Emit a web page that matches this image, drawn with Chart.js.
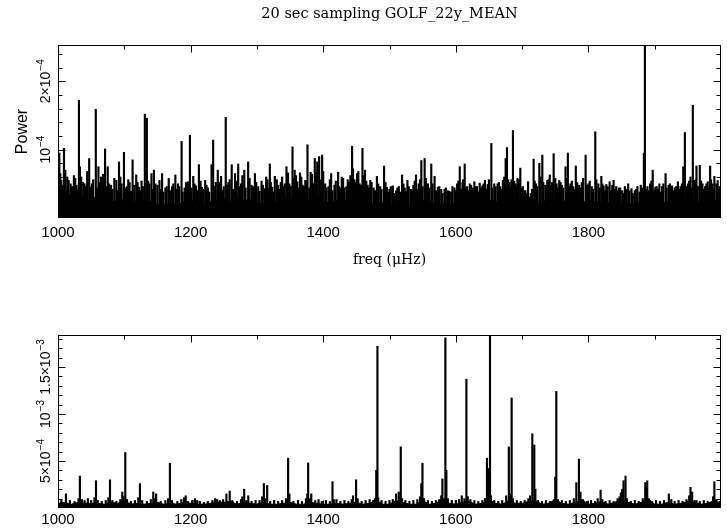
<!DOCTYPE html>
<html>
<head>
<meta charset="utf-8">
<script src="https://cdn.jsdelivr.net/npm/chart.js@4.4.1/dist/chart.umd.min.js"></script>
<style>
  body { margin: 0; background: #fff; }
  #wrap { position: relative; width: 727px; height: 529px; }
  #topChart { position: absolute; left: 0; top: 0; }
  #bottomChart { position: absolute; left: 0; top: 300px; }
</style>
</head>
<body>
<div id="wrap">
  <canvas id="topChart" width="727" height="300"></canvas>
  <canvas id="bottomChart" width="727" height="229"></canvas>
</div>
<script>
// texts and ticks
const titleText = '20 sec sampling GOLF_22y_MEAN';
const xTitle = 'freq (\u03bcHz)';
const yTitle = 'Power';
const xTickValues = [1000, 1200, 1400, 1600, 1800];
const topLabelValues = [1e-4, 2e-4];
const topLabelBase = ['10', '2\u00d710'];
const topLabelExp = ['\u22124', '\u22124'];
const botLabelValues = [5e-4, 1e-3, 1.5e-3];
const botLabelBase = ['5\u00d710', '10', '1.5\u00d710'];
const botLabelExp = ['\u22124', '\u22123', '\u22123'];

// noise floor sampled every 10 uHz (shared freq grid)
const floorFreq = [1000,1010,1020,1030,1040,1050,1060,1070,1080,1090,1100,1110,1120,1130,1140,1150,1160,1170,1180,1190,
  1200,1210,1220,1230,1240,1250,1260,1270,1280,1290,1300,1310,1320,1330,1340,1350,1360,1370,1380,1390,
  1400,1410,1420,1430,1440,1450,1460,1470,1480,1490,1500,1510,1520,1530,1540,1550,1560,1570,1580,1590,
  1600,1610,1620,1630,1640,1650,1660,1670,1680,1690,1700,1710,1720,1730,1740,1750,1760,1770,1780,1790,
  1800,1810,1820,1830,1840,1850,1860,1870,1880,1890,1900,1910,1920,1930,1940,1950,1960,1970,1980,1990,2000];

// top panel, power in units of 1e-5
const topUnit = 1e-5;
const topFloor = [3.8,4.2,3.2,3.6,2.8,3.2,2.8,3.0,2.3,2.6,2.8,2.2,2.6,2.8,2.4,2.0,1.8,2.2,1.9,2.4,
  2.6,2.2,2.0,2.4,2.6,2.8,2.4,2.9,2.6,2.7,2.2,2.0,2.6,2.2,2.8,3.0,2.6,2.9,2.6,3.2,
  2.4,2.2,2.6,2.4,2.7,3.0,2.6,2.2,2.0,2.2,1.9,2.1,2.3,2.0,2.4,2.6,2.4,2.2,2.0,1.8,
  2.2,2.4,2.1,2.3,2.4,2.6,2.4,2.7,2.8,2.6,2.2,1.1,2.0,2.4,2.6,2.7,2.4,2.6,2.4,2.3,
  2.5,2.4,2.2,2.3,2.1,2.2,1.9,2.0,2.4,2.2,2.0,2.2,2.4,2.1,2.4,2.6,2.4,2.2,2.4,2.6,2.4];
const topPeakFreq = [1002,1005,1009,1014,1019,1024,1028,1031.6,1033,1038,1042,1047,1051,1057,1061,1065,1071,1075,1080,1085,
  1092,1096,1099.5,1104,1108,1112.5,1118,1122,1126,1131,1134,1138,1141,1144.7,1150,1153,1157,1162,1167,1172,
  1177,1181,1186.4,1191,1196,1199,1204,1208,1212.5,1217,1222,1226,1231.6,1234,1238,1241,1246,1250,1253,1257,
  1262,1267,1271.8,1276,1281,1286.8,1292,1297,1302,1307,1312,1316,1319.5,1323,1327,1332,1336,1340,1344.6,1349,
  1353.7,1357,1361,1365,1369,1373,1376.3,1381,1384,1387.3,1391,1393.9,1398.4,1403,1408,1412,1417,1422.5,1426,1430,
  1435,1439,1443.6,1447,1451,1455,1459.2,1463,1467,1471,1476,1481,1486,1491.8,1496,1500,1505,1510,1514,1519,
  1523,1527,1532,1536,1540,1544,1548,1553,1558,1563,1568,1573,1578,1583,1588,1593,1598,1602,1606,1610,
  1613.4,1617,1621,1625,1628,1632,1636,1640,1644,1648,1653.6,1658,1663,1667,1671,1675.2,1677.2,1681,1684,1686.2,
  1690,1693,1697.3,1701,1705,1709,1713,1717.4,1721,1726,1730.5,1735,1738,1741.7,1745,1747.6,1752,1756,1760,1765.5,
  1769,1773,1777,1781,1786,1790,1795.8,1800,1805,1810.4,1815,1819.5,1823,1827,1832,1838,1842,1846,1851,1855,
  1860,1865,1870,1874,1879,1883.7,1885.2,1889,1893,1897,1901,1907,1911,1916.4,1921,1926,1930,1935,1939,1943,
  1945.5,1950,1954,1957.5,1960,1963,1968,1972,1976,1980,1983.6,1987,1990,1995,1998];
const topPeakPower = [9.5,5.5,10.2,6.0,5.0,6.2,4.8,17.2,7.5,5.2,4.6,8.7,5.0,15.9,7.5,6.0,10.1,7.5,4.8,5.8,
  8.2,5.0,9.6,4.6,5.2,8.5,6.3,4.5,5.4,15.2,14.6,5.0,6.5,7.0,4.8,5.5,6.5,4.4,5.8,4.6,
  6.3,5.0,11.2,4.4,5.3,12.1,6.1,4.7,7.8,4.5,5.5,4.4,7.8,11.4,5.2,7.0,6.1,4.6,14.7,5.2,
  7.8,6.5,7.9,5.0,7.0,8.2,4.8,6.5,4.6,5.4,4.3,5.6,7.9,4.5,6.1,4.8,5.2,4.6,7.5,5.0,
  10.4,7.0,5.3,6.6,4.8,5.5,10.7,6.7,5.0,8.7,8.2,9.0,9.2,5.0,4.6,6.5,4.8,6.7,4.4,5.8,
  4.6,5.3,10.5,5.6,6.5,5.0,10.2,7.0,4.8,5.5,4.4,6.1,4.6,7.6,4.5,4.2,4.7,4.0,4.6,6.3,
  4.4,5.5,4.2,4.8,6.3,5.0,8.4,8.7,5.0,7.9,6.1,4.5,4.2,4.2,4.0,3.8,4.4,5.0,7.5,5.2,
  7.9,4.6,5.0,4.4,5.3,4.6,5.1,4.7,5.5,4.9,10.9,5.0,5.0,4.6,5.5,8.7,10.3,5.2,5.6,12.8,
  5.0,5.8,7.3,4.6,4.0,5.3,3.6,8.6,5.0,8.0,9.2,4.8,5.5,6.3,5.2,9.4,5.0,5.5,4.8,7.5,
  9.5,5.0,4.6,7.6,4.8,5.2,9.2,5.0,4.6,12.6,5.0,6.1,4.7,4.9,5.3,5.5,4.6,4.4,4.0,4.6,
  5.0,4.3,4.0,4.6,4.8,9.5,28,4.6,5.0,7.0,4.5,5.0,4.6,6.5,4.8,4.7,4.4,5.3,4.6,7.5,
  12.5,5.0,6.0,16.5,5.5,7.6,7.7,5.0,4.6,5.3,7.6,5.0,6.1,5.5,4.6];
// the denser forest of smaller lines between the peaks
const topMidFreq = [1003.5,1007,1011,1016,1021,1026,1030,1035,1040,1044,1049,1053,1059,1063,1068,1073,1077,1082,1088,1090,
  1094,1101,1106,1110,1115,1120,1124,1128,1136,1143,1147,1155,1159,1164,1169,1174,1179,1183,1188,1193,
  1201,1206,1210,1215,1219,1224,1228,1236,1243,1248,1255,1259,1264,1269,1274,1278,1283,1289,1294,1299,
  1304,1309,1314,1318,1321,1325,1330,1334,1338,1342,1347,1351,1355,1359,1363,1367,1371,1375,1379,1383,
  1386,1389,1396,1400,1405,1410,1414,1419,1424,1428,1432,1437,1441,1445,1449,1453,1457,1461,1465,1469,
  1473,1478,1483,1488,1494,1498,1502,1507,1512,1516,1521,1525,1529,1534,1538,1542,1546,1550,1555,1560,
  1565,1570,1575,1580,1585,1590,1595,1600,1604,1608,1611,1615,1619,1623,1626,1630,1634,1638,1642,1646,
  1650,1655,1660,1665,1669,1673,1679,1682,1688,1692,1695,1699,1703,1707,1711,1715,1719,1723,1728,1732,
  1737,1740,1743,1750,1754,1758,1762,1767,1771,1775,1779,1783,1788,1792,1798,1802,1807,1812,1817,1821,
  1825,1829,1834,1836,1840,1844,1848,1853,1857,1862,1867,1872,1877,1881,1887,1891,1895,1899,1903,1905,
  1909,1913,1918,1923,1928,1932,1937,1941,1948,1952,1956,1962,1965,1970,1974,1978,1982,1985,1989,1993,1997];
const topMidPower = [6.5,4.8,7.0,5.5,4.6,5.8,4.2,6.0,5.0,6.8,4.5,5.6,4.4,5.2,6.4,4.6,5.0,4.2,5.5,4.0,
  6.0,4.4,5.6,3.9,4.8,5.2,4.0,4.6,5.4,4.2,5.0,4.2,3.8,4.6,4.0,5.0,4.2,4.6,3.8,5.2,
  4.4,5.0,4.0,5.4,4.2,4.8,3.8,4.6,5.2,4.0,4.8,5.6,4.2,5.4,4.6,6.2,4.4,5.8,4.6,5.2,
  3.9,4.8,6.0,4.4,5.2,3.8,5.6,4.2,6.0,5.0,6.6,4.6,5.8,6.2,4.4,6.0,4.6,5.4,4.4,6.4,
  5.0,6.6,5.6,6.8,4.4,5.6,4.0,5.4,4.6,6.0,4.4,5.6,6.2,7.2,5.2,6.8,4.8,6.2,5.4,4.4,
  5.2,4.0,5.0,4.2,5.2,3.8,4.6,3.6,4.4,3.8,5.0,3.9,4.6,4.0,5.4,4.2,5.6,4.6,5.8,4.4,
  5.0,4.0,4.6,3.6,4.4,3.9,4.6,4.0,5.4,4.2,5.6,4.4,4.0,4.8,4.0,4.6,3.8,4.4,5.0,4.2,
  5.6,4.4,4.6,5.2,4.2,6.0,5.6,4.6,5.4,4.6,5.6,4.4,4.0,3.6,3.0,4.2,5.4,4.6,6.0,5.2,
  4.4,5.6,4.6,5.8,4.4,5.2,4.4,5.8,4.6,5.4,4.2,5.2,4.4,5.8,4.8,5.4,4.2,5.6,4.4,5.0,
  4.0,4.6,4.0,4.8,4.2,4.0,4.4,3.6,4.2,4.0,3.6,4.2,3.8,4.4,4.2,4.0,5.4,4.0,4.6,4.2,
  3.8,5.0,4.4,5.0,4.0,4.6,4.2,5.0,4.6,5.4,4.4,5.6,4.6,5.4,4.2,5.0,4.4,5.6,4.4,5.0,4.2];

// bottom panel, power in units of 1e-4
const botUnit = 1e-4;
const botFloor = [0.5,0.6,0.4,0.6,0.5,0.5,0.5,0.4,0.6,0.5,0.8,0.4,0.5,0.4,0.5,0.6,0.4,0.5,0.4,0.6,
  0.5,0.4,0.4,0.5,0.6,0.6,0.7,0.4,0.6,0.5,0.4,0.6,0.4,0.4,0.5,0.6,0.4,0.4,0.6,0.5,
  0.4,0.4,0.5,0.4,0.5,0.6,0.4,0.5,0.8,0.4,0.4,0.8,0.6,0.4,0.4,0.8,0.4,0.5,0.9,0.5,
  0.4,0.6,0.7,0.4,0.5,0.9,0.5,0.4,0.8,0.5,0.5,0.7,0.8,0.4,0.5,0.9,0.5,0.4,0.6,0.9,
  0.4,0.5,0.7,0.4,0.6,1.0,0.6,0.4,0.6,1.0,0.4,0.4,0.6,0.4,0.5,0.7,0.6,0.4,0.5,0.8,0.5];
const botPeakFreq = [1005,1012,1018,1025,1031,1033,1036,1040,1045,1050,1055,1057.3,1060,1066,1072,1076,1078.4,1082,1088,1094,
  1097,1099,1101.5,1104,1110,1116,1121,1123.6,1127,1134,1140,1143.7,1146,1148,1155,1162,1166,1168.8,1172,1180,
  1186,1190,1192.6,1196,1203,1206.7,1210,1214,1220,1226,1233,1237,1240,1244,1249,1254,1259,1263,1270,1276,
  1278,1280.8,1284,1287,1292,1298,1304,1308,1310.5,1312,1315.5,1320,1326,1332,1338,1344,1347.1,1349,1355,1362,
  1368,1374,1376,1377.3,1380,1382,1388,1393,1398,1404,1410,1414,1416,1420,1426,1432,1438,1443,1445,1449.6,
  1452,1458,1464,1470,1475,1478,1480,1481.8,1483,1488,1494,1500,1505,1510,1514,1517,1519,1524,1530,1536,
  1542,1546,1548,1549.7,1552,1558,1564,1570,1575,1578,1579.8,1582,1584.3,1585.8,1588,1594,1600,1605,1609,1613,
  1616,1618,1622,1628,1634,1640,1644,1647,1648.5,1651.6,1653,1658,1664,1670,1676,1680,1682,1684.2,1686,1692,
  1698,1704,1709.5,1712,1715.4,1718.4,1720,1724,1730,1736,1742,1748,1750,1751.6,1754,1760,1766,1772,1778,1781.8,
  1785.7,1788,1792,1798,1804,1810,1814,1818.4,1821,1826,1832,1838,1844,1847,1849,1851,1853,1856,1858,1864,
  1870,1876,1882,1885.7,1887,1888.7,1891,1896,1902,1908,1914,1921.3,1925,1930,1936,1942,1948,1952,1954,1956.5,
  1960,1963,1968,1974,1980,1986,1988,1990,1993,1998];
const botPeakPower = [0.9,1.5,0.8,0.7,1.0,3.4,0.9,0.8,1.0,0.8,1.1,2.9,0.8,0.7,0.8,1.1,3.0,0.8,0.7,0.9,
  1.7,1.2,5.9,0.9,0.7,0.8,1.1,2.6,0.8,0.7,0.9,1.7,1.0,1.5,0.7,0.8,1.0,4.75,0.8,0.7,
  0.9,1.1,1.3,0.7,0.8,1.0,0.8,0.7,0.6,0.7,0.8,1.0,0.9,0.8,0.9,1.5,1.8,0.8,0.7,0.9,
  1.2,2.0,0.8,1.3,0.7,0.8,0.8,1.2,2.6,1.0,2.4,0.7,0.8,0.7,0.8,1.0,5.3,1.5,0.7,0.8,
  0.7,1.0,1.5,4.8,1.0,1.5,0.8,0.9,0.7,0.8,0.7,2.8,0.9,0.9,0.7,0.8,0.7,0.9,1.3,3.0,
  1.0,0.7,0.8,0.9,0.8,1.0,4.0,17.2,1.1,0.8,0.7,0.8,0.9,1.5,1.7,6.5,1.0,0.8,0.7,0.8,
  0.9,1.2,2.6,4.75,1.0,0.8,0.7,0.8,0.9,1.3,3.1,1.0,18.1,4.0,1.0,0.8,0.8,0.9,1.3,1.0,
  13.7,1.2,0.9,0.8,0.7,0.8,1.0,5.3,4.2,19.5,1.3,0.8,0.7,0.8,1.3,6.5,1.5,11.7,1.0,0.8,
  0.7,0.8,1.0,1.3,7.9,6.7,2.0,0.8,0.7,0.8,0.7,0.9,3.3,12.4,0.9,0.8,0.7,0.8,1.0,2.7,
  5.2,1.7,0.9,0.7,0.8,0.7,1.0,1.9,0.9,0.7,0.8,0.7,1.0,1.2,1.6,2.0,2.9,3.4,1.0,0.7,
  0.8,0.7,1.0,2.7,2.0,2.9,1.0,0.7,0.8,0.7,0.8,1.5,0.9,0.7,0.8,0.7,0.9,1.3,2.2,1.7,
  0.8,0.8,0.7,0.8,0.7,0.6,1.2,2.8,0.9,0.7];

// PGPLOT-like box: frame, inward ticks on all sides, rotated y labels with exponents
const pgBox = {
  id: 'pgBox',
  afterDatasetsDraw(chart, args, opts) {
    const { ctx, chartArea: a, scales: { x, y } } = chart;
    const L = Math.round(a.left) + 0.5, R = Math.round(a.right) - 0.5;
    const T = Math.round(a.top) + 0.5, B = Math.round(a.bottom) - 0.5;
    ctx.save();
    ctx.strokeStyle = '#000';
    ctx.lineWidth = 1;
    ctx.beginPath();
    // inner ticks only, the frame covers the end ones
    for (let i = 1; x.min + i * opts.xMinor < x.max; i++) {
      const px = Math.round(x.getPixelForValue(x.min + i * opts.xMinor)) + 0.5;
      const len = i % opts.xPerMajor === 0 ? 7 : 4;
      ctx.moveTo(px, T); ctx.lineTo(px, T + len);
      ctx.moveTo(px, B); ctx.lineTo(px, B - len);
    }
    for (let i = 1; i * opts.yMinor < y.max; i++) {
      const py = Math.round(y.getPixelForValue(i * opts.yMinor)) + 0.5;
      const len = i % opts.yPerMajor === 0 ? 7 : 4;
      ctx.moveTo(L, py); ctx.lineTo(L + len, py);
      ctx.moveTo(R, py); ctx.lineTo(R - len, py);
    }
    ctx.stroke();
    ctx.strokeRect(L, T, R - L, B - T);

    ctx.fillStyle = '#000';
    opts.values.forEach((v, i) => {
      const py = y.getPixelForValue(v);
      ctx.font = '14px "Liberation Sans"';
      const wb = ctx.measureText(opts.base[i]).width;
      ctx.font = '10px "Liberation Sans"';
      const we = ctx.measureText(opts.exp[i]).width;
      ctx.save();
      ctx.translate(a.left - 8, py);
      ctx.rotate(-Math.PI / 2);
      ctx.textAlign = 'left';
      ctx.textBaseline = 'alphabetic';
      const x0 = -(wb + we + 1) / 2;
      ctx.font = '14px "Liberation Sans"';
      ctx.fillText(opts.base[i], x0, 0);
      ctx.font = '10px "Liberation Sans"';
      ctx.fillText(opts.exp[i], x0 + wb + 1, -6);
      ctx.restore();
    });
    ctx.restore();
  }
};

function points(freqs, vals, unit) {
  return freqs.map((f, i) => ({ x: f, y: vals[i] * unit }));
}

function spikes(freqs, vals, unit) {
  return {
    type: 'bar',
    data: points(freqs, vals, unit),
    backgroundColor: '#000',
    borderWidth: 0,
    barThickness: 1.5,
    grouped: false,
    order: 1
  };
}

function makeChart(id, cfg) {
  const datasets = cfg.spikeSets.map(s => spikes(s[0], s[1], cfg.unit));
  datasets.push({
    type: 'line',
    data: points(floorFreq, cfg.floor, cfg.unit),
    borderColor: '#000',
    backgroundColor: '#000',
    borderWidth: 1,
    pointRadius: 0,
    tension: 0,
    fill: 'origin',
    order: 2
  });
  return new Chart(document.getElementById(id), {
    type: 'line',
    data: { datasets },
    options: {
      responsive: false,
      animation: false,
      events: [],
      layout: { padding: { left: 0, right: 6, top: cfg.padTop, bottom: 0 } },
      plugins: {
        legend: { display: false },
        tooltip: { enabled: false },
        title: cfg.title,
        pgBox: cfg.box
      },
      scales: {
        x: {
          type: 'linear',
          min: 1000,
          max: 2000,
          offset: false,
          grid: { display: false, drawTicks: false },
          border: { display: false },
          ticks: {
            stepSize: 200,
            padding: cfg.tickPad,
            autoSkip: false,
            maxRotation: 0,
            color: '#000',
            font: { family: 'Liberation Sans', size: 15 },
            callback: v => xTickValues.includes(v) ? String(v) : ''
          },
          title: cfg.xTitle,
          afterFit: s => { s.height = cfg.xHeight; }
        },
        y: {
          min: 0,
          max: cfg.yMax,
          grid: { display: false, drawTicks: false },
          border: { display: false },
          ticks: { display: false },
          title: cfg.yTitle,
          afterFit: s => { s.width = 58; }
        }
      }
    },
    plugins: [pgBox]
  });
}

makeChart('topChart', {
  unit: topUnit, floor: topFloor,
  spikeSets: [[topPeakFreq, topPeakPower], [topMidFreq, topMidPower]],
  yMax: 2.53e-4, padTop: 0, tickPad: 6, xHeight: 82,
  title: {
    display: true, text: titleText, color: '#000', fullSize: false,
    font: { family: 'DejaVu Serif', size: 14.5, weight: 'normal' },
    padding: { top: 6, bottom: 21.6 }
  },
  xTitle: {
    display: true, text: xTitle, color: '#000',
    font: { family: 'DejaVu Serif', size: 14, weight: 'normal' },
    padding: { top: 0, bottom: 31.6 }
  },
  yTitle: {
    display: true, text: yTitle, color: '#000',
    font: { family: 'Liberation Sans', size: 16, weight: 'normal' },
    padding: { top: 13.4, bottom: 0 }
  },
  box: { xMinor: 100, xPerMajor: 2, yMinor: 2e-5, yPerMajor: 5,
         values: topLabelValues, base: topLabelBase, exp: topLabelExp }
});

makeChart('bottomChart', {
  unit: botUnit, floor: botFloor,
  spikeSets: [[botPeakFreq, botPeakPower]],
  yMax: 1.84e-3, padTop: 35, tickPad: 3, xHeight: 21,
  title: { display: false },
  xTitle: { display: false },
  yTitle: { display: false },
  box: { xMinor: 100, xPerMajor: 2, yMinor: 1e-4, yPerMajor: 5,
         values: botLabelValues, base: botLabelBase, exp: botLabelExp }
});
</script>
</body>
</html>
